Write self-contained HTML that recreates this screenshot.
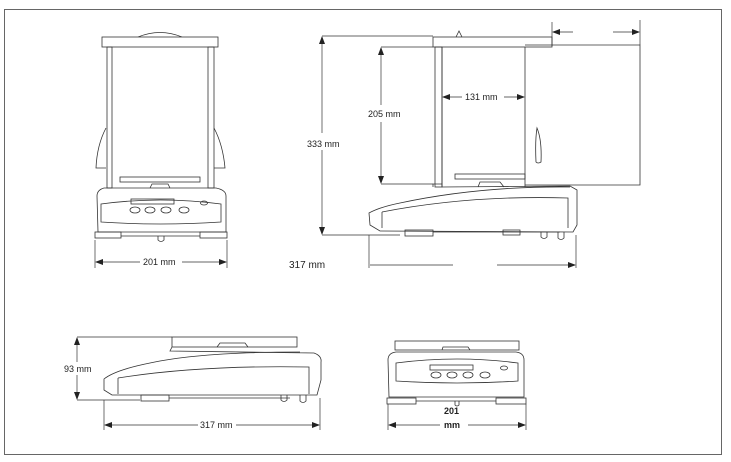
<!DOCTYPE html>
<html><head><meta charset="utf-8"><style>
html,body{margin:0;padding:0;background:#fff;}
svg{display:block;}
text{font-family:"Liberation Sans",Arial,sans-serif;font-size:9px;fill:#222;}
</style></head><body>
<svg width="731" height="462" viewBox="0 0 731 462" xmlns="http://www.w3.org/2000/svg">
<defs>
<marker id="a" markerWidth="8" markerHeight="6" refX="7" refY="3" orient="auto" markerUnits="userSpaceOnUse"><path d="M0,0 L8,3 L0,6 z" fill="#222"/></marker>
</defs>
<rect x="4.5" y="9.5" width="717" height="445" fill="none" stroke="#666" stroke-width="1"/>
<g fill="none" stroke="#333" stroke-width="0.8">
<!-- FRONT VIEW -->
<path d="M138,37 Q160,28 182,37"/>
<rect x="102" y="37" width="116" height="10" fill="#fff"/>
<rect x="107" y="47" width="5" height="141"/>
<rect x="208" y="47" width="6" height="141"/>
<path d="M106,128 Q97,145 96,168 L106,168"/>
<path d="M214,128 Q223,145 225,168 L214,168"/>
<rect x="120" y="177" width="80" height="5"/>
<path d="M150,188 L152,184 L168,184 L170,188"/>
<path d="M98,232 L97,196 Q97,190 104,188 L216,188 Q226,190 226,196 L226,232 Z"/>
<path d="M101,204 Q160,196 221,204 L221,222 Q160,226 101,222 Z"/>
<rect x="131" y="199" width="43" height="5"/>
<ellipse cx="135" cy="210" rx="5" ry="3"/>
<ellipse cx="150" cy="210" rx="5" ry="3"/>
<ellipse cx="166" cy="210" rx="5" ry="3"/>
<ellipse cx="184" cy="210" rx="5" ry="3"/>
<ellipse cx="204" cy="203" rx="3.5" ry="2"/>
<rect x="95" y="232" width="26" height="6"/>
<rect x="200" y="232" width="27" height="6"/>
<line x1="121" y1="236" x2="200" y2="236"/>
<path d="M158,236 L158,240 Q161,243 164,240 L164,236"/>
<!-- SIDE VIEW -->
<path d="M456,37 L459,31 L462,37"/>
<rect x="433" y="37" width="119" height="10" fill="#fff"/>
<rect x="435" y="47" width="7" height="140"/>
<line x1="442" y1="47" x2="442" y2="187"/>
<line x1="525" y1="47" x2="525" y2="187"/>
<rect x="455" y="174" width="70" height="5"/>
<path d="M478,187 L480,182 L500,182 L504,187"/>
<path d="M525,45 L640,45 L640,185 L525,185"/>
<path d="M537,128 Q542,140 541,162 Q538,164 536,162 Q535,140 537,128 Z"/>
<path d="M433,187 L433,184 L442,184 L442,187 L570,186 L577,190 L577,225 L573,232 L380,231 L370,225 L369,213 Q380,207 400,203 Q480,186 570,187"/>
<path d="M382,212 Q470,195 568,198 L568,228"/>
<path d="M382,212 L382,228"/>
<rect x="405" y="230" width="28" height="6"/>
<line x1="433" y1="232" x2="560" y2="232"/>
<rect x="503" y="230" width="17" height="5"/>
<path d="M541,232 L541,237 Q544,240 547,237 L547,232"/>
<path d="M558,232 L558,238 Q561,241 564,238 L564,232"/>
<!-- BOTTOM SIDE -->
<rect x="172" y="337" width="125" height="10"/>
<path d="M217,347 L220,343 L245,343 L248,347"/>
<path d="M172,347 L170,351 L314,353 Q322,356 321,362 L321,380 L317,395 L112,395 L104,390 L104,379 Q115,370 150,363 Q200,352 300,352"/>
<path d="M118,378 Q200,365 309,367 L309,394"/>
<line x1="118" y1="378" x2="118" y2="394"/>
<rect x="141" y="395" width="28" height="6"/>
<line x1="169" y1="398" x2="290" y2="398"/>
<path d="M281,395 L281,400 Q284,403 287,400 L287,395"/>
<path d="M300,395 L300,401 Q303,404 306,401 L306,395"/>
<!-- BOTTOM FRONT -->
<rect x="395" y="341" width="124" height="9"/>
<path d="M442,350 L443,347 L468,347 L470,350"/>
<path d="M389,397 L388,360 Q388,353 396,352 L516,352 Q524,353 524,360 L524,397 Z"/>
<path d="M396,363 Q457,355 518,363 L518,381 Q457,385 396,381 Z"/>
<rect x="430" y="365" width="43" height="5"/>
<ellipse cx="436" cy="375" rx="5" ry="3"/>
<ellipse cx="452" cy="375" rx="5" ry="3"/>
<ellipse cx="468" cy="375" rx="5" ry="3"/>
<ellipse cx="485" cy="375" rx="5" ry="3"/>
<ellipse cx="504" cy="368" rx="3.5" ry="2"/>
<rect x="387" y="398" width="29" height="6"/>
<rect x="496" y="398" width="30" height="6"/>
<line x1="416" y1="401" x2="496" y2="401"/>
<path d="M455,401 L455,405 Q457,407 459,405 L459,401"/>
</g>
<!-- DIMENSIONS -->
<g stroke="#333" stroke-width="0.7" fill="none">
<line x1="95" y1="240" x2="95" y2="268"/><line x1="227" y1="240" x2="227" y2="268"/>
<line x1="140" y1="262" x2="96" y2="262" marker-end="url(#a)"/>
<line x1="182" y1="262" x2="226" y2="262" marker-end="url(#a)"/>
<line x1="322" y1="36" x2="433" y2="36"/><line x1="322" y1="235" x2="400" y2="235"/>
<line x1="322" y1="133" x2="322" y2="37" marker-end="url(#a)"/>
<line x1="322" y1="150" x2="322" y2="234" marker-end="url(#a)"/>
<line x1="381" y1="47" x2="433" y2="47"/><line x1="381" y1="184" x2="433" y2="184"/>
<line x1="381" y1="105" x2="381" y2="48" marker-end="url(#a)"/>
<line x1="381" y1="122" x2="381" y2="183" marker-end="url(#a)"/>
<line x1="462" y1="97" x2="443" y2="97" marker-end="url(#a)"/>
<line x1="504" y1="97" x2="524" y2="97" marker-end="url(#a)"/>
<line x1="552" y1="22" x2="552" y2="46"/><line x1="640" y1="20" x2="640" y2="45"/>
<line x1="573" y1="32" x2="553" y2="32" marker-end="url(#a)"/>
<line x1="613" y1="32" x2="639" y2="32" marker-end="url(#a)"/>
<line x1="369" y1="235" x2="369" y2="268"/><line x1="576" y1="235" x2="576" y2="268"/>
<line x1="453" y1="265" x2="370" y2="265"/>
<line x1="497" y1="265" x2="575" y2="265" marker-end="url(#a)"/>
<line x1="77" y1="337" x2="172" y2="337"/><line x1="77" y1="400" x2="140" y2="400"/>
<line x1="77" y1="362" x2="77" y2="338" marker-end="url(#a)"/>
<line x1="77" y1="375" x2="77" y2="399" marker-end="url(#a)"/>
<line x1="104" y1="400" x2="104" y2="430"/><line x1="320" y1="398" x2="320" y2="430"/>
<line x1="198" y1="425" x2="105" y2="425" marker-end="url(#a)"/>
<line x1="236" y1="425" x2="319" y2="425" marker-end="url(#a)"/>
<line x1="388" y1="404" x2="388" y2="430"/><line x1="526" y1="404" x2="526" y2="430"/>
<line x1="440" y1="425" x2="389" y2="425" marker-end="url(#a)"/>
<line x1="468" y1="425" x2="525" y2="425" marker-end="url(#a)"/>
</g>
<text x="143" y="265">201 mm</text>
<text x="307" y="147">333 mm</text>
<text x="368" y="117">205 mm</text>
<text x="465" y="100">131 mm</text>
<text x="289" y="268" style="font-size:10px">317 mm</text>
<text x="64" y="372">93 mm</text>
<text x="200" y="428">317 mm</text>
<text x="444" y="414" style="font-weight:bold">201</text>
<text x="444" y="428" style="font-weight:bold">mm</text>
</svg>
</body></html>
